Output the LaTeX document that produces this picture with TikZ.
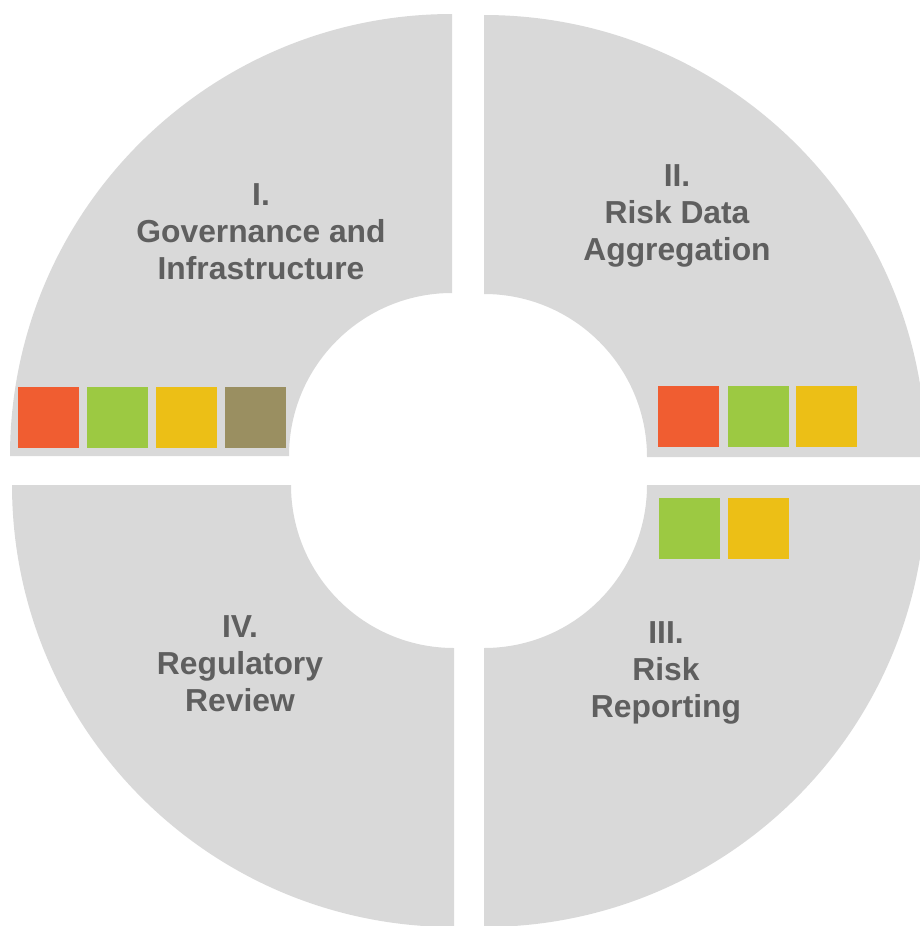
\documentclass[tikz,border=0pt]{standalone}
\usepackage{fontspec}
\setmainfont{Liberation Sans}
\definecolor{ringgray}{HTML}{D9D9D9}
\definecolor{txtgray}{HTML}{5F5F5F}
\definecolor{cred}{HTML}{F05D31}
\definecolor{cgreen}{HTML}{9CC942}
\definecolor{cyellow}{HTML}{ECBF16}
\definecolor{colive}{HTML}{9A8F61}
\tikzset{
  quad/.style={fill=ringgray, draw=none},
  sq/.style={minimum size=61pt, inner sep=0pt, draw=none, rectangle},
  lbl/.style={font=\fontsize{31.8}{37}\selectfont\bfseries, text=txtgray, align=center, inner sep=0pt}
}
\begin{document}
\begin{tikzpicture}[x=1pt,y=-1pt]
\useasboundingbox (0,0) rectangle (920,926);
\clip (0,0) rectangle (920,926);
% quadrants (pixel coordinates, y downward)
\fill[quad] (10,456) arc[start angle=180,end angle=270,radius=442] -- (452,293) arc[start angle=270,end angle=180,radius=163] -- cycle;
\fill[quad] (484,15) arc[start angle=270,end angle=360,radius=442] -- (647,457) arc[start angle=0,end angle=-90,radius=163] -- cycle;
\fill[quad] (926,485) arc[start angle=0,end angle=90,radius=442] -- (484,648) arc[start angle=90,end angle=0,radius=163] -- cycle;
\fill[quad] (454,927) arc[start angle=90,end angle=180,radius=442] -- (291,485) arc[start angle=180,end angle=90,radius=163] -- cycle;
% labels
\node[lbl] (gov) at (261,232) {I.\\Governance and\\Infrastructure};
\node[lbl] (agg) at (677,216) {II.\\Risk Data\\Aggregation};
\node[lbl] (rep) at (666,673) {III.\\Risk\\Reporting};
\node[lbl] (reg) at (240,664) {IV.\\Regulatory\\Review};
% squares
\node[sq, fill=cred] (tla) at (48.5,417.5) {};
\node[sq, fill=cgreen] (tlb) at (117.5,417.5) {};
\node[sq, fill=cyellow] (tlc) at (186.5,417.5) {};
\node[sq, fill=colive] (tld) at (255.5,417.5) {};
\node[sq, fill=cred] (tra) at (688.5,416.5) {};
\node[sq, fill=cgreen] (trb) at (758.5,416.5) {};
\node[sq, fill=cyellow] (trc) at (826.5,416.5) {};
\node[sq, fill=cgreen] (bra) at (689.5,528.5) {};
\node[sq, fill=cyellow] (brb) at (758.5,528.5) {};
\end{tikzpicture}
\end{document}
